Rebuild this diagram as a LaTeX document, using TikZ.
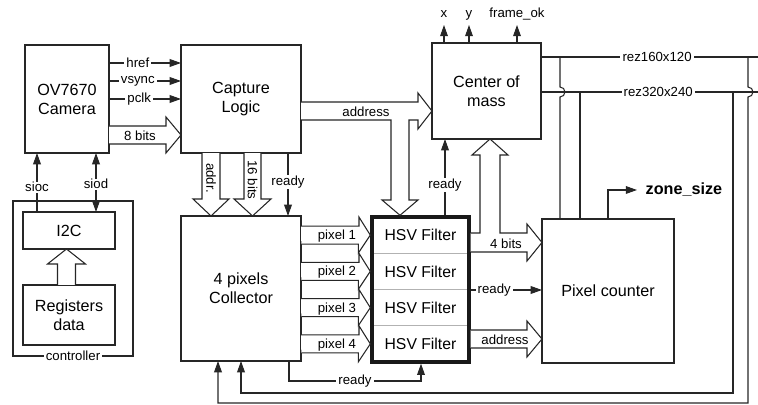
\documentclass[tikz,border=0pt]{standalone}
\usepackage{fontspec}
\setmainfont{Liberation Sans}
\usetikzlibrary{arrows.meta, calc}

\begin{document}
\begin{tikzpicture}[
    x=0.025cm, y=-0.025cm,
    >={Triangle[length=8pt,width=5.5pt]},
    blk/.style={draw=black!85, line width=0.75pt, outer sep=0pt, inner sep=1pt, align=center, font=\fontsize{11.5}{13.5}\selectfont},
    lbl/.style={fill=white, inner xsep=1.5pt, inner ysep=0.5pt, font=\fontsize{9.4}{11}\selectfont},
    tag/.style={inner sep=0pt, font=\fontsize{9.4}{11}\selectfont},
    wire/.style={draw=black!85, line width=0.75pt},
    sig/.style={wire, ->},
    fat/.style={wire, fill=white, line join=miter},
    row/.style={minimum width=2.425cm, minimum height=0.90625cm, inner sep=0pt, outer sep=0pt, font=\fontsize{11.2}{13}\selectfont},
  ]
  \useasboundingbox (0,0) rectangle (758,405);
  % Blocks
  \node[blk, minimum width=2.1cm, minimum height=2.7cm] (cam) at (67,99) {OV7670\\Camera};
  \node[blk, minimum width=3cm, minimum height=2.7cm] (cap) at (241,99) {Capture\\Logic};
  \node[blk, minimum width=2.725cm, minimum height=2.4cm] (com) at (486.5,91) {Center of\\mass};
  \node[blk, minimum width=3cm, minimum height=3.625cm] (col) at (241,288.5) {4 pixels\\Collector};
  \node[blk, minimum width=3.3cm, minimum height=3.6cm] (pc) at (608,291) {Pixel counter};
  % Controller
  \node[blk, minimum width=3cm, minimum height=3.875cm] (ctl) at (73,278.5) {};
  \node[lbl] (ctlname) at (ctl.south) {controller};
  \node[blk, minimum width=2.3cm, minimum height=0.925cm] (i2c) at (69,230.5) {I2C};
  \node[blk, minimum width=2.3cm, minimum height=1.5cm] (reg) at (69,315) {Registers\\data};
  % HSV filters
  \foreach \k/\yy in {1/235.125, 2/271.375, 3/307.625, 4/343.875}
    \node[row] (h\k) at (420.5,\yy) {HSV Filter};
  \foreach \k in {1,2,3}
    \draw[black!30, line width=0.75pt] (h\k.south west) -- (h\k.south east);
  \node[draw=black!90, line width=2.4pt, minimum width=2.425cm, minimum height=3.625cm] (hsv) at (420.5,289.5) {};
  \coordinate (rzA) at (758,57);
  \coordinate (rzB) at (758,92);

  % Camera -> Capture
  \draw[sig] (cam.east |- 0,63) -- node[lbl, pos=0.4] (thref) {href} (cap.west |- 0,63);
  \draw[sig] (cam.east |- 0,81) -- node[lbl, pos=0.4] (tvs) {vsync} (cap.west |- 0,81);
  \draw[sig] (cam.east |- 0,99) -- node[lbl, pos=0.42] (tpc) {pclk} (cap.west |- 0,99);
  \draw[fat] (cam.east |- 0,126) -- (166,126) -- (166,117) -- (cap.west |- 0,135) -- (166,153) -- (166,144) -- (cam.east |- 0,144);
  \node[tag] (t8) at (140,135.5) {8 bits};
  % I2C <-> Camera
  \draw[sig] (i2c.north -| 37,0) -- node[lbl, pos=0.42] (tsioc) {sioc} (cam.south -| 37,0);
  \draw[sig, <->] (i2c.north -| 96,0) -- node[lbl, pos=0.47] (tsiod) {siod} (cam.south -| 96,0);
  \draw[fat] (reg.north -| 57.5,0) -- (57.5,264) -- (47.5,264) -- (i2c.south -| 66.5,0) -- (85.5,264) -- (75.5,264) -- (reg.north -| 75.5,0);

  % Capture -> Collector
  \draw[fat] (cap.south -| 202,0) -- (202,199) -- (193,199) -- (col.north -| 211,0) -- (229,199) -- (220,199) -- (cap.south -| 220,0);
  \node[tag, rotate=-90] (taddr) at (211,178) {addr.};
  \draw[fat] (cap.south -| 244,0) -- (244,199) -- (234,199) -- (col.north -| 252.5,0) -- (271,199) -- (261,199) -- (cap.south -| 261,0);
  \node[tag, rotate=-90] (t16) at (252.5,180) {16 bits};
  \draw[sig] (cap.south -| 288,0) -- node[lbl, pos=0.46] (trdy1) {ready} (col.north -| 288,0);

  % Collector -> HSV
  \foreach \k in {1,...,4} {
    \draw[fat] (col.east |- h\k.west) ++(0,-9) -- ++(58,0) -- ++(0,-9) -- (hsv.west |- h\k.west) -- ++(-12,18) -- ++(0,-9) -- ++(-57,0);
    \node[tag] (tp\k) at (337,{235.125+36.25*(\k-1)+1}) {pixel \k};
  }
  \draw[sig] (col.south -| 289,0) -- (289,381) -- node[lbl] (trdy2) {ready} (421,381) -- (hsv.south -| 421,0);

  % Capture -> Center of mass, HSV
  \draw[fat] (cap.east |- 0,102) -- (418,102) -- (418,93) -- (com.west |- 0,111) -- (418,129) -- (418,120) -- (409,120) -- (409,200) -- (418,200) -- (hsv.north -| 400,0) -- (382,200) -- (391,200) -- (391,120) -- (cap.east |- 0,120);
  \node[tag] (taddr2) at (366,112) {address};
  \draw[sig] (hsv.north -| 445,0) -- node[lbl, pos=0.4] (trdy3) {ready} (com.south -| 445,0);

  % HSV -> Center of mass, Pixel counter
  \draw[fat] (hsv.east |- 0,233) -- (480,233) -- (480,155) -- (472,155) -- (com.south -| 490,0) -- (508,155) -- (500,155) -- (500,233) -- (527,233) -- (527,224) -- (pc.west |- 0,242.5) -- (527,261) -- (527,252) -- (hsv.east |- 0,252);
  \node[tag] (t4) at (506,244) {4 bits};
  \draw[sig] (hsv.east |- 0,290) -- node[lbl, pos=0.33] (trdy4) {ready} (pc.west |- 0,290);
  \draw[fat] (hsv.east |- 0,330) -- (527,330) -- (527,321) -- (pc.west |- 0,339) -- (527,357) -- (527,348) -- (hsv.east |- 0,348);
  \node[tag] (taddr3) at (505,339.5) {address};

  % Outputs
  \foreach \name/\xx/\txt in {ox/444/x, oy/469/y, ofk/517/frame\_ok} {
    \node[tag, anchor=base] (\name) at (\xx,18) {\txt};
    \draw[sig] (com.north -| \name) -- ++(0,-18);
  }
  \node[anchor=west, inner xsep=6pt, inner ysep=0pt, font=\bfseries\fontsize{11.5}{13}\selectfont] (zs) at (637,190) {zone\_size};
  \draw[sig] (pc.north) |- (zs.west);

  % Resolution lines
  \draw[wire] (com.east |- rzA) -- node[lbl, pos=0.535] (tr1) {rez160x120} (rzA);
  \draw[wire] (com.east |- rzB) -- node[lbl, pos=0.54] (tr2) {rez320x240} (rzB);
  \draw[wire] (rzA -| 560,0) -- (560,87) arc[start angle=-90, end angle=90, radius=5] -- (pc.north -| 560,0);
  \draw[wire] (rzB -| 580,0) -- (pc.north -| 580,0);
  \draw[sig] (rzA -| 748,0) -- (748,87) arc[start angle=-90, end angle=90, radius=5] -- (748,403) -| (col.south -| 218,0);
  \draw[sig] (rzB -| 733,0) -- (733,393) -| (col.south -| 241,0);
\end{tikzpicture}
\end{document}
